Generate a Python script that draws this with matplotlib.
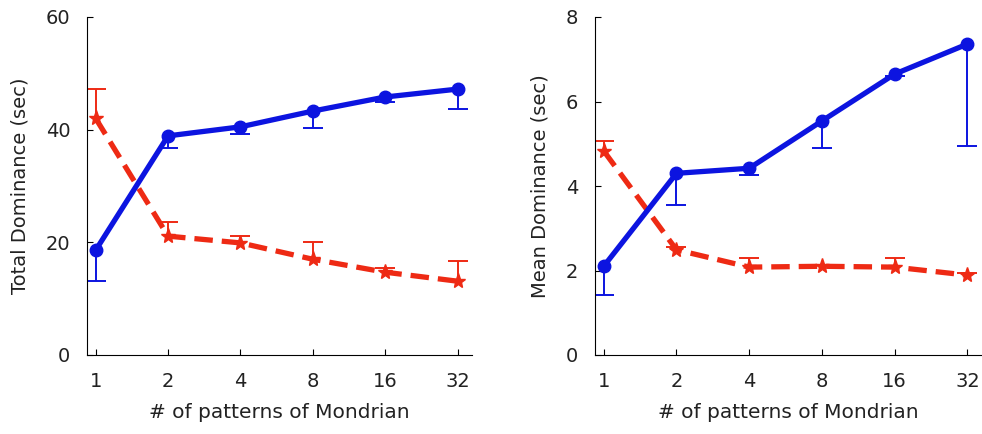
import matplotlib.pyplot as plt
import numpy as np

# # of Mondrian patterns (tick labels)
patterns = ["1", "2", "4", "8", "16", "32"]

# total dominance (sec)
total_blue = [18.6, 38.9, 40.5, 43.3, 45.8, 47.2]
total_blue_low = [13.1, 36.8, 39.3, 40.3, 45.0, 43.7]
total_red = [42.0, 21.1, 19.9, 17.0, 14.7, 13.1]
total_red_high = [47.2, 23.6, 21.1, 20.0, 15.5, 16.7]

# mean dominance (sec)
mean_blue = [2.1, 4.3, 4.42, 5.54, 6.65, 7.36]
mean_blue_low = [1.42, 3.55, 4.26, 4.9, 6.6, 4.95]
mean_red = [4.83, 2.49, 2.08, 2.1, 2.08, 1.89]
mean_red_high = [5.06, 2.55, 2.3, 2.12, 2.3, 1.93]

BLUE = "#0c14e0"
RED = "#ee2a14"
TEXT = "#222222"

plt.rcParams["font.family"] = ["DejaVu Sans"]

fig = plt.figure(figsize=(9.82, 4.34), dpi=100)
ax1 = fig.add_axes([87 / 982, 79 / 434, 385 / 982, 338 / 434])
ax2 = fig.add_axes([595 / 982, 79 / 434, 387 / 982, 338 / 434])


def draw_panel(ax, blue, blue_low, red, red_high, ymax, yticks, ylabel):
    x = np.arange(len(patterns))
    blue = np.array(blue)
    red = np.array(red)
    blue_low = np.array(blue_low)
    red_high = np.array(red_high)

    # one-sided error bars (blue down, red up)
    ax.vlines(x, blue_low, blue, color=BLUE, lw=1.4, zorder=1)
    ax.plot(x, blue_low, ls="none", marker="_", ms=15, mew=1.4, color=BLUE, zorder=1)
    ax.vlines(x, red, red_high, color=RED, lw=1.4, zorder=1)
    ax.plot(x, red_high, ls="none", marker="_", ms=15, mew=1.4, color=RED, zorder=1)

    ax.plot(x, red, color=RED, lw=3.8, ls=(0, (3.5, 1.7)), marker="*", ms=11,
            zorder=2)
    ax.plot(x, blue, color=BLUE, lw=3.8, marker="o", ms=9, zorder=3)

    ax.set_xlim(-0.12, 5.2)
    ax.set_ylim(0, ymax)
    ax.set_xticks(x)
    ax.set_xticklabels(patterns)
    ax.set_yticks(yticks)
    ax.spines["top"].set_visible(False)
    ax.spines["right"].set_visible(False)
    ax.tick_params(direction="in", length=4, labelsize=14, pad=12,
                   labelcolor=TEXT)
    ax.set_xlabel("# of patterns of Mondrian", fontsize=14.5, labelpad=9,
                  color=TEXT)
    ax.set_ylabel(ylabel, fontsize=14, labelpad=12, color=TEXT)


draw_panel(ax1, total_blue, total_blue_low, total_red, total_red_high,
           60, [0, 20, 40, 60], "Total Dominance (sec)")
draw_panel(ax2, mean_blue, mean_blue_low, mean_red, mean_red_high,
           8, [0, 2, 4, 6, 8], "Mean Dominance (sec)")

fig.savefig("out.png", dpi=100)
